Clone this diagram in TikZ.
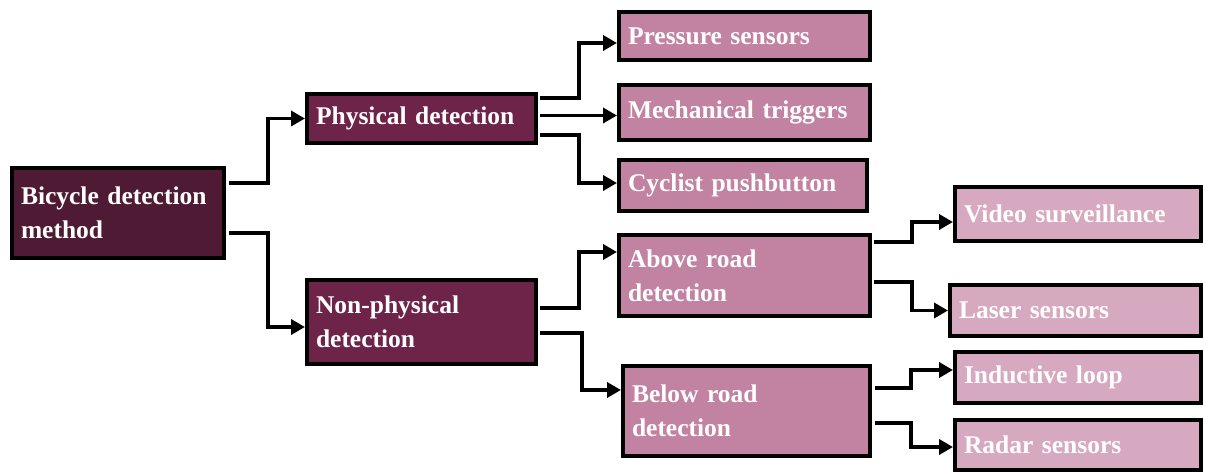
\documentclass[tikz,border=0pt]{standalone}
\usepackage{fontspec}
\setmainfont{Liberation Serif}
\usepackage{tikz}
\usetikzlibrary{arrows.meta, positioning, calc}
\definecolor{rootcol}{HTML}{4F1A33}
\definecolor{levelone}{HTML}{6E2448}
\definecolor{leveltwo}{HTML}{C283A2}
\definecolor{levelthree}{HTML}{D7A9C0}

\begin{document}
\begin{tikzpicture}[x=1pt, y=-1pt,
    box/.style={draw=black, line width=4pt, align=left, inner sep=0pt,
      text=white, font=\fontsize{25.5}{34}\selectfont\bfseries},
    conn/.style={line width=3.5pt, -{Triangle[length=14pt, width=15pt]}}]
    \useasboundingbox (0,0) rectangle (1205,473);

    % main nodes
    \node[box, fill=rootcol, minimum width=212pt, minimum height=90pt, text width=194pt]
      (root) at (118,213) {Bicycle detection\\method};
    \node[box, fill=levelone, minimum width=229pt, minimum height=49pt, text width=211pt]
      (phys) at (421.5,118.5) {Physical detection};
    \node[box, fill=levelone, minimum width=229pt, minimum height=84pt, text width=211pt]
      (nonphys) at (421.5,322) {Non-physical\\detection};

    % second level
    \node[box, fill=leveltwo, minimum width=251pt, minimum height=48pt, text width=233pt]
      (pressure) at (744.5,36) {Pressure sensors};
    \node[box, fill=leveltwo, minimum width=251pt, minimum height=55pt, text width=233pt]
      (mech) at (744.5,112.5) {Mechanical triggers};
    \node[box, fill=leveltwo, minimum width=248pt, minimum height=51pt, text width=230pt]
      (cyclist) at (743,185.5) {Cyclist pushbutton};
    \node[box, fill=leveltwo, minimum width=251pt, minimum height=81pt, text width=233pt]
      (above) at (744.5,275.5) {Above road\\detection};
    \node[box, fill=leveltwo, minimum width=247pt, minimum height=90pt, text width=229pt]
      (below) at (746.5,411) {Below road\\detection};

    % third level
    \node[box, fill=levelthree, minimum width=246pt, minimum height=54pt, text width=228pt]
      (video) at (1078,214) {Video surveillance};
    \node[box, fill=levelthree, minimum width=251pt, minimum height=51pt, text width=233pt]
      (laser) at (1075.5,310.5) {Laser sensors};
    \node[box, fill=levelthree, minimum width=246pt, minimum height=51pt, text width=228pt]
      (inductive) at (1078,377.5) {Inductive loop};
    \node[box, fill=levelthree, minimum width=246pt, minimum height=50pt, text width=228pt]
      (radar) at (1078,445) {Radar sensors};

    % connectors
    \draw[conn] ([shift={(3pt,30pt)}]root.east) -- ++(39,0) |- (phys.west);
    \draw[conn] ([shift={(3pt,-20pt)}]root.east) -- ++(39,0) |- ([yshift=-5pt]nonphys.west);

    \draw[conn] ([shift={(2pt,20.5pt)}]phys.east) -- ++(39,0) |- ([yshift=-7pt]pressure.west);
    \draw[conn] ([shift={(2pt,3pt)}]phys.east) -- ([yshift=3pt]phys.east -| mech.west);
    \draw[conn] ([shift={(2pt,-16.5pt)}]phys.east) -- ++(39,0) |- ([yshift=2.5pt]cyclist.west);
    \draw[conn] ([shift={(2pt,14pt)}]nonphys.east) -- ++(39,0) |- ([yshift=23.5pt]above.west);
    \draw[conn] ([shift={(2pt,-11pt)}]nonphys.east) -- ++(42,0) |- ([yshift=21pt]below.west);

    \draw[conn] ([shift={(2pt,33.5pt)}]above.east) -- ++(38,0) |- ([yshift=-8pt]video.west);
    \draw[conn] ([shift={(2pt,-6.5pt)}]above.east) -- ++(38,0) |- (laser.west);
    \draw[conn] ([shift={(3pt,23pt)}]below.east) -- ++(36,0) |- ([yshift=7.5pt]inductive.west);
    \draw[conn] ([shift={(3pt,-12pt)}]below.east) -- ++(36,0) |- ([yshift=-2pt]radar.west);
  \end{tikzpicture}
\end{document}
